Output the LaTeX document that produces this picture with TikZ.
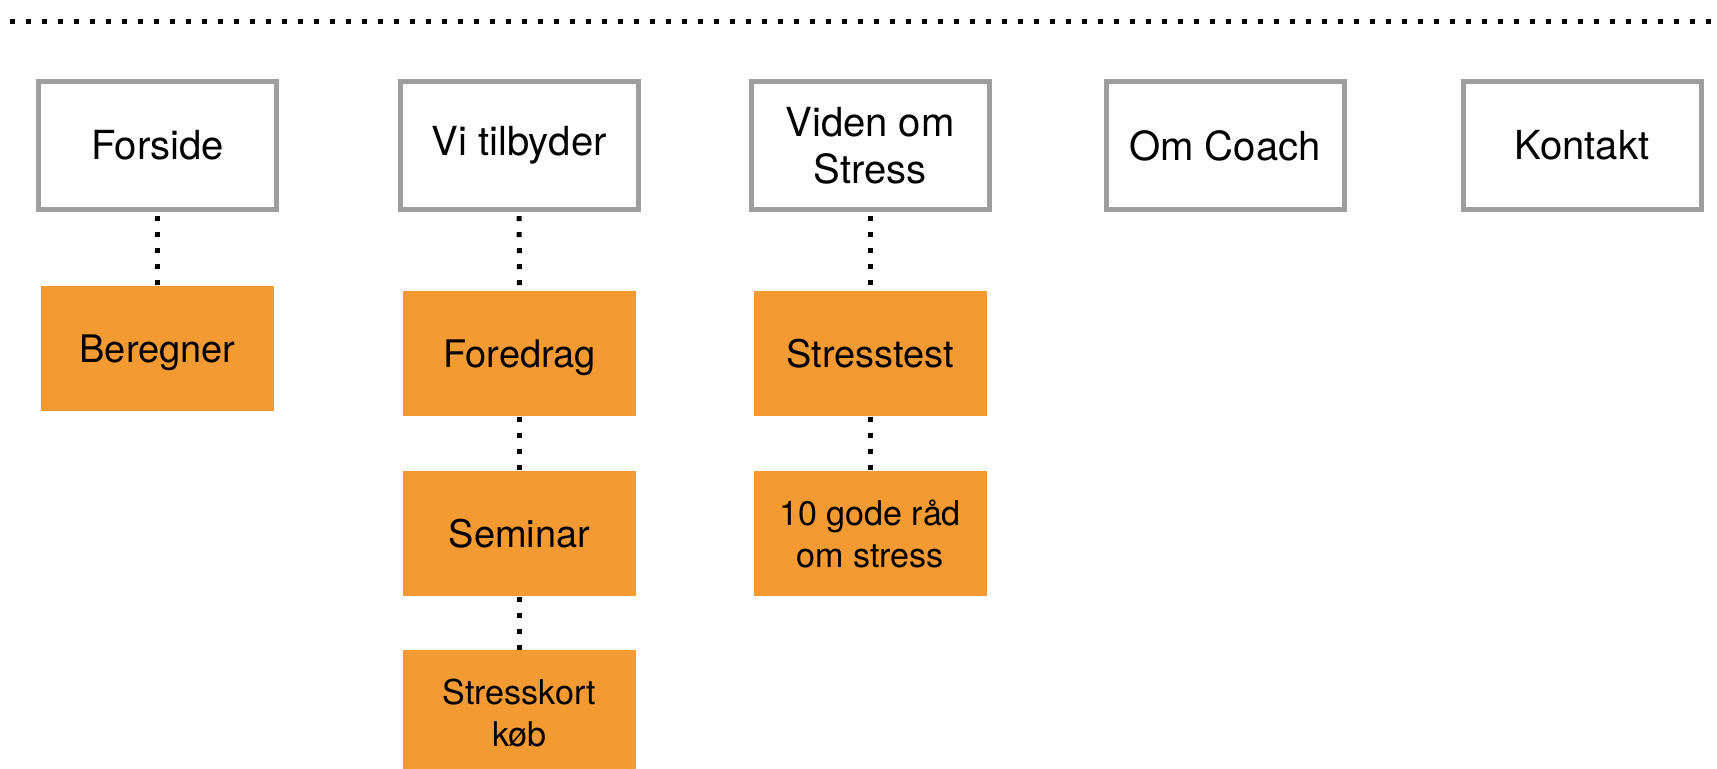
\documentclass[tikz,border=0pt]{standalone}
\usepackage{fontspec}
\setmainfont{TeX Gyre Heros}
\definecolor{pagegray}{HTML}{9E9E9E}
\definecolor{suborange}{HTML}{F39A33}

\begin{document}
\begin{tikzpicture}[
  page/.style={draw=pagegray, line width=0.05cm, fill=white, minimum width=2.38cm,
    minimum height=1.28cm, inner sep=0pt, align=center,
    font=\fontsize{11.4}{13.4}\selectfont},
  sub/.style={fill=suborange, minimum width=2.33cm, minimum height=1.25cm,
    inner sep=0pt, text depth=0pt, align=center, font=\fontsize{10.8}{12.1}\selectfont},
  subsmall/.style={sub, font=\fontsize{9.7}{12.1}\selectfont},
  link/.style={line width=0.05cm, dash pattern=on 0.05cm off 0.11cm}
]
\useasboundingbox (0,0) rectangle (17.17,7.69);

% dotted line on top
\coordinate (topL) at (0.10,7.473);
\coordinate (topR) at (17.17,7.473);
\draw[link] (topL) -- (topR);

% main pages
\node[page] (forside) at (1.575,6.233) {Forside};
\node[page] (tilbyder) at (5.19,6.233) {Vi tilbyder};
\node[page] (viden) at (8.70,6.233) {Viden om\\Stress};
\node[page] (coach) at (12.25,6.233) {Om Coach};
\node[page] (kontakt) at (15.82,6.233) {Kontakt};

% sub pages
\node[sub] (beregner) at (1.575,4.20) {Beregner};
\node[sub] (foredrag) at (5.195,4.155) {Foredrag};
\node[sub] (seminar) at (5.195,2.355) {Seminar};
\node[subsmall] (kort) at (5.195,0.56) {Stresskort\\køb};
\node[sub] (stresstest) at (8.70,4.155) {Stresstest};
\node[subsmall] (raad) at (8.70,2.355) {10 gode råd\\om stress};

% links
\draw[link, shorten <=0.04cm] (forside) -- (beregner);
\draw[link, shorten <=0.04cm] (tilbyder) -- (foredrag);
\draw[link] (foredrag) -- (seminar);
\draw[link] (seminar) -- (kort);
\draw[link, shorten <=0.04cm] (viden) -- (stresstest);
\draw[link] (stresstest) -- (raad);

\end{tikzpicture}
\end{document}
